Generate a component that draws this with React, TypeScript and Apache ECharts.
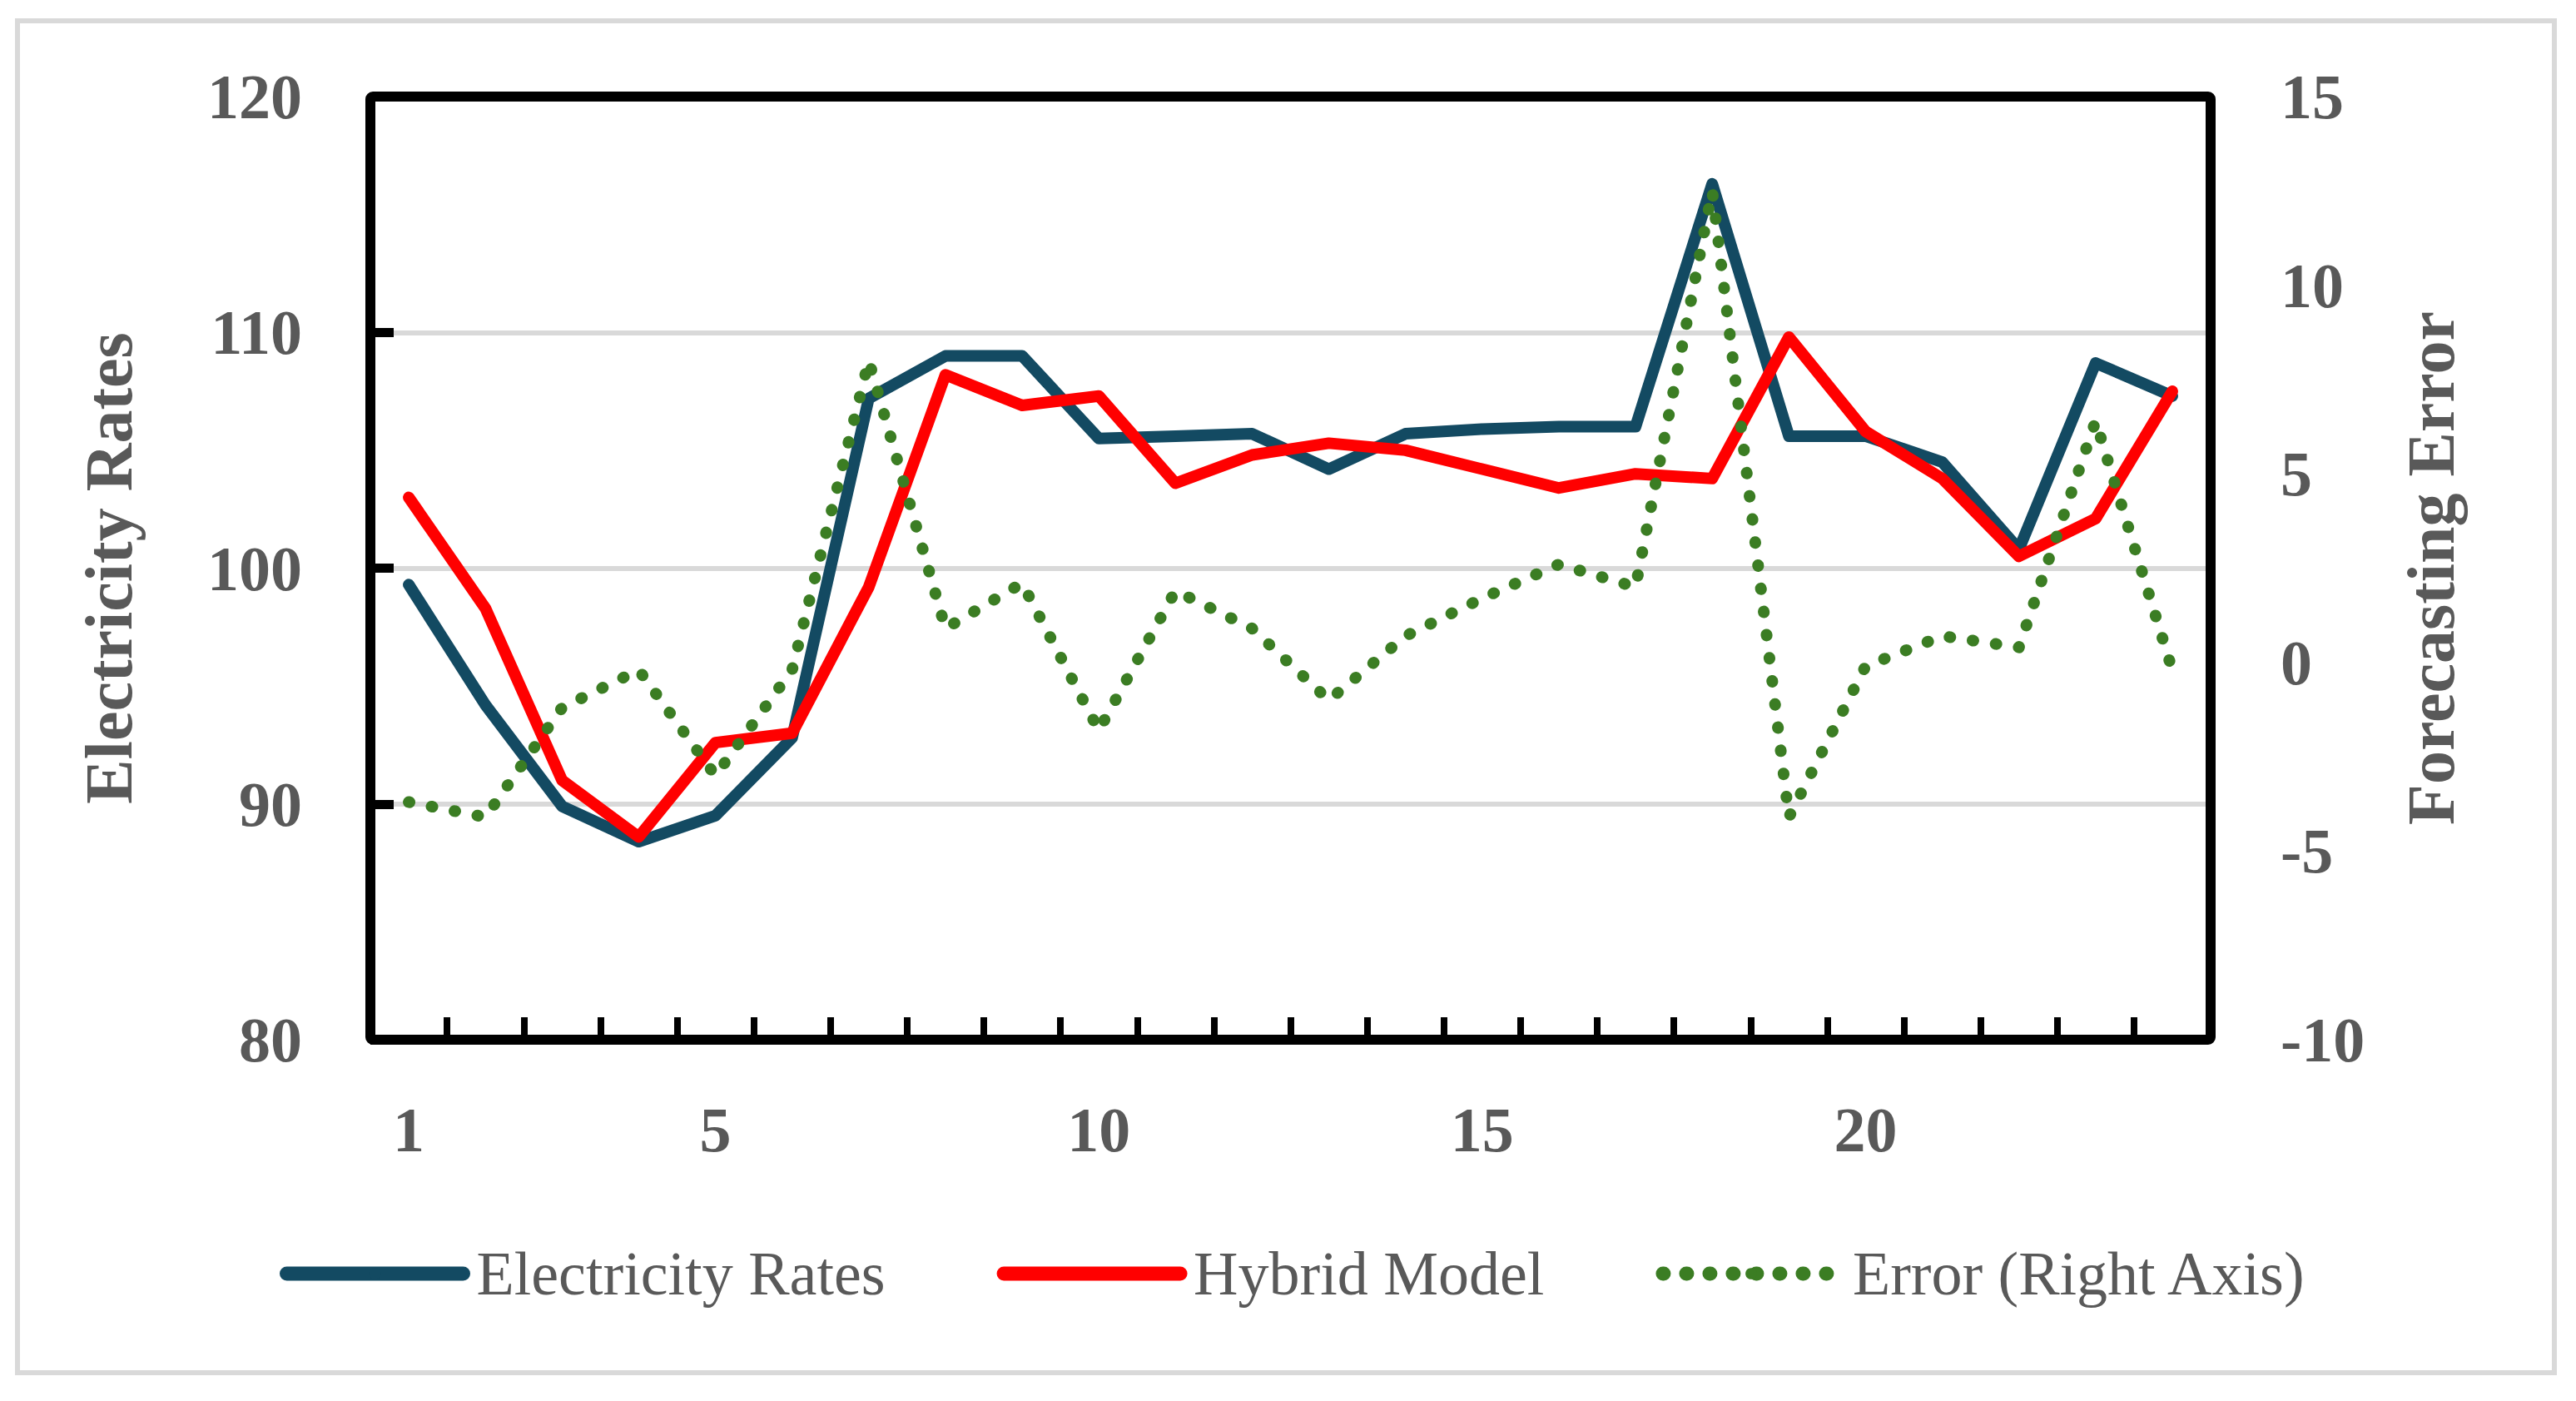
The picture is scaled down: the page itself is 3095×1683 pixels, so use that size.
import React, { useEffect, useRef } from "react";
import * as echarts from "echarts";

const categories = ["1", "2", "3", "4", "5", "6", "7", "8", "9", "10", "11", "12", "13", "14", "15", "16", "17", "18", "19", "20", "21", "22", "23", "24"];
const shownXLabels = ["1", "5", "10", "15", "20"];

const electricityRates = [99.3, 94.2, 89.9, 88.4, 89.5, 92.8, 107.2, 109.0, 109.0, 105.5, 105.6, 105.7, 104.2, 105.7, 105.9, 106.0, 106.0, 116.3, 105.6, 105.6, 104.5, 100.8, 108.7, 107.3];
const hybridModel = [103.0, 98.3, 91.0, 88.6, 92.6, 93.0, 99.2, 108.2, 106.9, 107.3, 103.6, 104.8, 105.3, 105.0, 104.2, 103.4, 104.0, 103.8, 109.8, 105.8, 103.8, 100.5, 102.1, 107.5];
const forecastError = [-3.7, -4.1, -1.2, -0.2, -3.0, -0.2, 8.0, 0.9, 2.1, -1.8, 1.9, 0.9, -1.0, 0.7, 1.7, 2.6, 2.0, 12.5, -4.1, -0.1, 0.7, 0.4, 6.4, -0.2];

const seriesNames = ["Electricity Rates", "Hybrid Model", "Error (Right Axis)"];
const leftAxisTitle = "Electricity Rates";
const rightAxisTitle = "Forecasting Error";

const FONT = "'Liberation Serif', 'DejaVu Serif', serif";
const TEXT_GRAY = "#595959";
const BLUE = "#134A62";
const RED = "#FF0000";
const GREEN = "#3B7D23";

const GRID = { left: 445, right: 439, top: 116, bottom: 434 };
const W = 3095;
const H = 1683;

export default function App() {
  const ref = useRef<HTMLDivElement>(null);

  useEffect(() => {
    const chart = echarts.init(ref.current!, null, { renderer: "svg" });
    chart.setOption({
      animation: false,
      backgroundColor: "#ffffff",
      textStyle: { fontFamily: FONT },
      graphic: [
        {
          type: "rect",
          silent: true,
          z: -10,
          shape: { x: 21, y: 25, width: 3048, height: 1624 },
          style: { fill: "none", stroke: "#D9D9D9", lineWidth: 6 },
        },
        {
          type: "rect",
          silent: true,
          z: 1,
          shape: {
            x: GRID.left,
            y: GRID.top,
            width: W - GRID.left - GRID.right,
            height: H - GRID.top - GRID.bottom,
            r: 3,
          },
          style: { fill: "none", stroke: "#000000", lineWidth: 12, lineJoin: "round" },
        },
      ],
      grid: {
        ...GRID,
        show: false,
      },
      legend: {
        left: 331,
        top: 1488,
        itemWidth: 212,
        itemHeight: 17,
        itemGap: 134,
        data: seriesNames,
        lineStyle: { width: 17 },
        textStyle: {
          fontFamily: FONT,
          fontSize: 74,
          color: TEXT_GRAY,
          padding: [0, 0, 0, 11],
        },
      },
      xAxis: {
        type: "category",
        data: categories,
        boundaryGap: true,
        axisLine: { show: false, onZero: false },
        axisTick: {
          show: true,
          inside: true,
          interval: 0,
          length: 27,
          lineStyle: { color: "#000000", width: 8 },
        },
        axisLabel: {
          interval: (index: number, value: string) => shownXLabels.includes(value),
          margin: 70,
          color: TEXT_GRAY,
          fontSize: 76,
          fontWeight: "bold",
          fontFamily: FONT,
        },
        splitLine: { show: false },
      },
      yAxis: [
        {
          type: "value",
          min: 80,
          max: 120,
          interval: 10,
          position: "left",
          name: leftAxisTitle,
          nameLocation: "middle",
          nameGap: 274,
          nameRotate: 90,
          nameTextStyle: {
            color: TEXT_GRAY,
            fontSize: 80,
            fontWeight: "bold",
            fontFamily: FONT,
          },
          axisLine: { show: false },
          axisTick: {
            show: true,
            inside: true,
            length: 28,
            lineStyle: { color: "#000000", width: 11 },
          },
          axisLabel: {
            margin: 82,
            color: TEXT_GRAY,
            fontSize: 76,
            fontWeight: "bold",
            fontFamily: FONT,
          },
          splitLine: { show: true, lineStyle: { color: "#D9D9D9", width: 6 } },
        },
        {
          type: "value",
          min: -10,
          max: 15,
          interval: 5,
          position: "right",
          name: rightAxisTitle,
          nameLocation: "middle",
          nameGap: 225,
          nameRotate: 90,
          nameTextStyle: {
            color: TEXT_GRAY,
            fontSize: 80,
            fontWeight: "bold",
            fontFamily: FONT,
          },
          axisLine: { show: false },
          axisTick: { show: false },
          axisLabel: {
            margin: 84,
            color: TEXT_GRAY,
            fontSize: 76,
            fontWeight: "bold",
            fontFamily: FONT,
          },
          splitLine: { show: false },
        },
      ],
      series: [
        {
          name: seriesNames[0],
          type: "line",
          yAxisIndex: 0,
          data: electricityRates,
          symbol: "none",
          z: 3,
          itemStyle: { color: BLUE },
          lineStyle: { color: BLUE, width: 14, cap: "round", join: "round" },
        },
        {
          name: seriesNames[1],
          type: "line",
          yAxisIndex: 0,
          data: hybridModel,
          symbol: "none",
          z: 3,
          itemStyle: { color: RED },
          lineStyle: { color: RED, width: 14, cap: "round", join: "round" },
        },
        {
          name: seriesNames[2],
          type: "line",
          yAxisIndex: 1,
          data: forecastError,
          symbol: "none",
          z: 3,
          itemStyle: { color: GREEN },
          lineStyle: { color: GREEN, width: 14, type: [1, 27], cap: "round", join: "round" },
        },
      ],
    });
    return () => chart.dispose();
  }, []);

  return (
    <div
      ref={ref}
      style={{ position: "fixed", left: 0, top: 0, width: W, height: H, background: "#ffffff" }}
    />
  );
}
